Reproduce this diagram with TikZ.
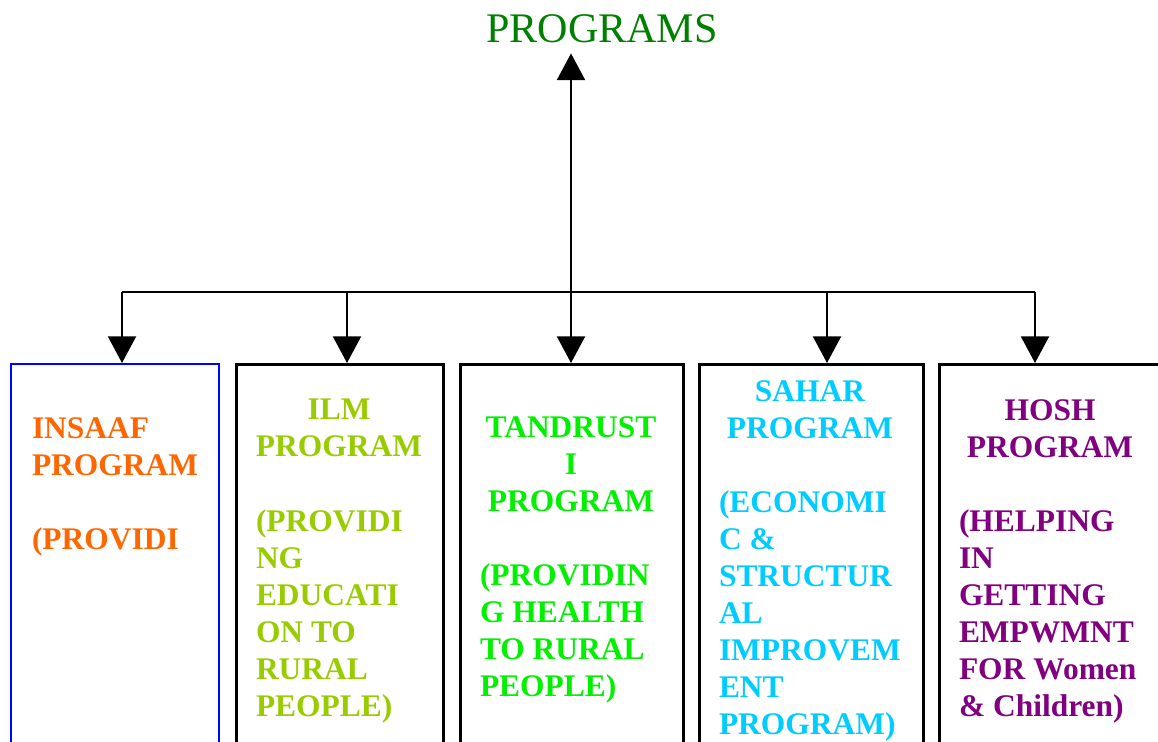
\documentclass[tikz,border=0pt]{standalone}
\usepackage{fontspec}
\setmainfont{Liberation Serif}
\usetikzlibrary{arrows.meta}
\definecolor{titlegreen}{HTML}{008000}
\definecolor{insaafc}{HTML}{FF6600}
\definecolor{ilmc}{HTML}{99CC00}
\definecolor{tandc}{HTML}{00F000}
\definecolor{saharc}{HTML}{00CCFF}
\definecolor{hoshc}{HTML}{800080}
\begin{document}
\begin{tikzpicture}[x=0.75pt,y=-0.75pt,>={Triangle[width=21pt,length=20pt]},line width=1.5pt,
  prog box/.style={rectangle,draw,line width=2pt,anchor=north west,inner sep=0pt,minimum height=320pt},
  desc node/.style={font=\bfseries\fontsize{23.6}{27.75}\selectfont,align=left,anchor=base west,inner sep=0pt},
  head node/.style={desc node,align=center,anchor=base}]
  \useasboundingbox (0,0) rectangle (1158,742);
  \clip (0,0) rectangle (1158,742);
  \node[font=\fontsize{31.6}{36}\selectfont,text=titlegreen,anchor=base,inner sep=0pt,inner ysep=6.75pt] (programs) at (602,43) {PROGRAMS};
  % boxes
  \node[prog box,draw=blue,line width=1.5pt,minimum width=156pt] (insaaf) at (10,363) {};
  \node[prog box,minimum width=155.25pt] (ilm) at (235,363) {};
  \node[prog box,minimum width=167.25pt] (tand) at (459,363) {};
  \node[prog box,minimum width=168pt] (sahar) at (698,363) {};
  \node[prog box,minimum width=168pt] (hosh) at (938,363) {};
  % texts (placed at the baseline of their last line)
  \node[desc node,text=insaafc] (insaafhead) at (31,475) {INSAAF\\PROGRAM};
  \node[desc node,text=insaafc] (insaafdesc) at (31,549) {(PROVIDI};
  \node[head node,text=ilmc] (ilmhead) at (339,456) {ILM\\PROGRAM};
  \node[desc node,text=ilmc] (ilmdesc) at (255,716) {(PROVIDI\\NG\\EDUCATI\\ON TO\\RURAL\\PEOPLE)};
  \node[head node,text=tandc] (tandhead) at (571,511) {TANDRUST\\I\\PROGRAM};
  \node[desc node,text=tandc] (tanddesc) at (479,696) {(PROVIDIN\\G HEALTH\\TO RURAL\\PEOPLE)};
  \node[head node,text=saharc] (saharhead) at (810,438) {SAHAR\\PROGRAM};
  \node[desc node,text=saharc] (sahardesc) at (718,734) {(ECONOMI\\C \&\\STRUCTUR\\AL\\IMPROVEM\\ENT\\PROGRAM)};
  \node[head node,text=hoshc] (hoshhead) at (1050,457) {HOSH\\PROGRAM};
  \node[desc node,text=hoshc] (hoshdesc) at (958,716) {(HELPING\\IN\\GETTING\\EMPWMNT\\FOR Women\\\& Children)};
  % connectors
  \coordinate (trunk) at (571,292);
  \coordinate (b1) at (122,292);
  \coordinate (b2) at (347,292);
  \coordinate (b3) at (571,292);
  \coordinate (b4) at (827,292);
  \coordinate (b5) at (1035,292);
  \draw[->] (trunk) -- (trunk |- programs.south);
  \draw (b1) -- (b5);
  \foreach \b/\n in {b1/insaaf,b2/ilm,b3/tand,b4/sahar,b5/hosh}
    \draw[->] (\b) -- (\b |- \n.north);
\end{tikzpicture}
\end{document}
